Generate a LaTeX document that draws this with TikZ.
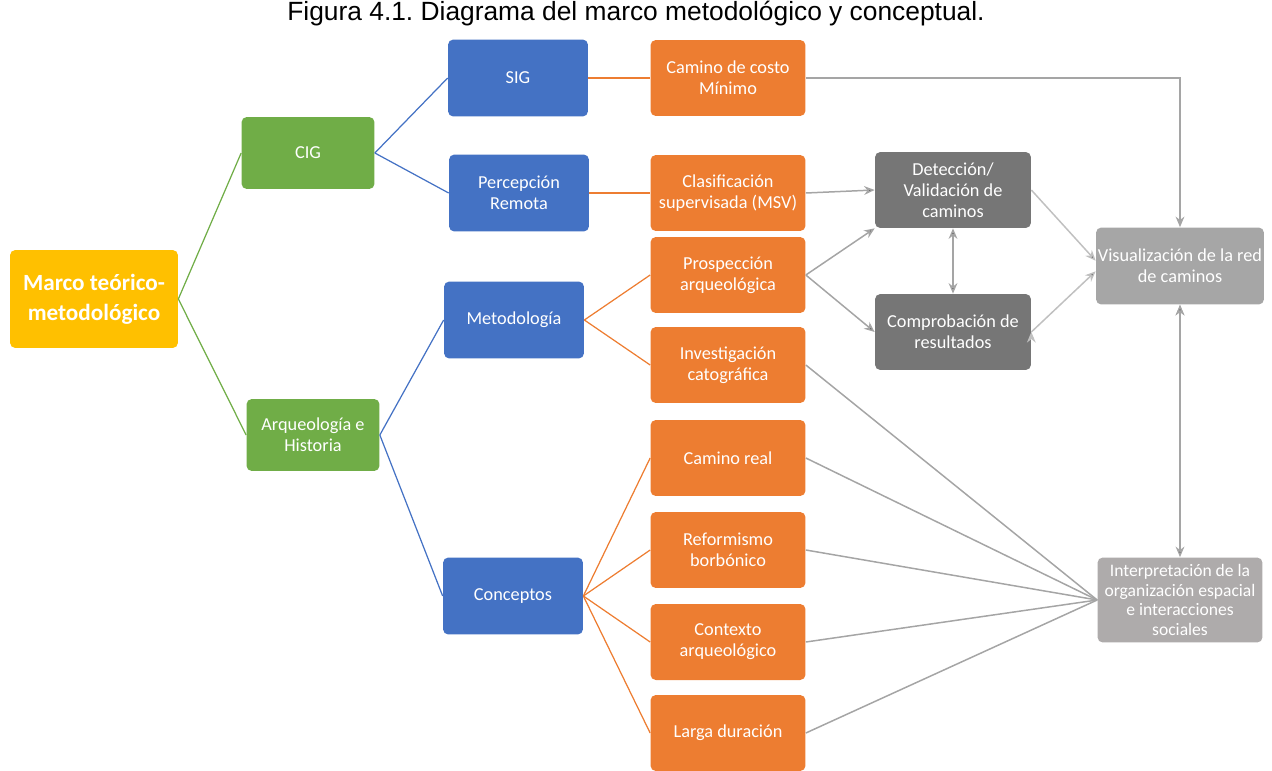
\documentclass[tikz,border=0pt]{standalone}
\usepackage{fontspec}
\setmainfont{Carlito}
\newfontfamily\capfont{Liberation Sans}
\usetikzlibrary{arrows.meta,shapes}
\frenchspacing
\definecolor{rootyellow}{HTML}{FFC000}
\definecolor{areagreen}{HTML}{70AD47}
\definecolor{fieldblue}{HTML}{4472C4}
\definecolor{topicorange}{HTML}{ED7D31}
\definecolor{procgray}{HTML}{767676}
\definecolor{viewgray}{HTML}{A6A6A6}
\definecolor{readgray}{HTML}{AEABAB}
\definecolor{linkgray}{HTML}{A5A5A5}
\tikzstyle{block} = [rectangle, rounded corners=3pt, text=white, align=center,
    font=\fontsize{10.4}{12}\selectfont, inner sep=1pt]
\tikzstyle{root} = [block, fill=rootyellow, minimum width=3.36cm, minimum height=1.96cm,
    font=\fontsize{13.2}{17}\selectfont\bfseries]
\tikzstyle{area} = [block, fill=areagreen, minimum width=2.66cm, minimum height=1.44cm]
\tikzstyle{field} = [block, fill=fieldblue, minimum width=2.8cm, minimum height=1.54cm]
\tikzstyle{topic} = [block, fill=topicorange, minimum width=3.1cm, minimum height=1.52cm]
\tikzstyle{process} = [block, fill=procgray, minimum width=3.12cm, minimum height=1.52cm]
\tikzstyle{outcome} = [block, minimum width=3.36cm, minimum height=1.54cm]
\tikzstyle{tree} = [-, line width=0.7pt]
\tikzstyle{link} = [draw=linkgray, line width=0.85pt]

\begin{document}
\begin{tikzpicture}[->,>={Stealth[length=6pt,width=5pt]},x=0.02cm,y=-0.02cm]
  \useasboundingbox (0,0) rectangle (1272,771);

  \node (title) at (636,14) {\capfont\fontsize{15}{18}\selectfont
    Figura 4.1. Diagrama del marco metodológico y conceptual.};

  \node[root]    (marco)  at (94,299)   {Marco teórico-\\metodológico};
  \node[area]    (cig)    at (308,153)  {CIG};
  \node[area]    (arq)    at (313,435)  {Arqueología e\\Historia};

  \node[field]   (sig)    at (518,78)   {SIG};
  \node[field]   (percep) at (519,193)  {Percepción\\Remota};
  \node[field]   (metod)  at (514,320)  {Metodología};
  \node[field]   (concep) at (513,596)  {Conceptos};

  \node[topic]   (costo)  at (728,78)   {Camino de costo\\Mínimo};
  \node[topic]   (clasif) at (728,193)  {Clasificación\\supervisada (MSV)};
  \node[topic]   (prosp)  at (728,275)  {Prospección\\arqueológica};
  \node[topic]   (invest) at (728,365)  {Investigación\\catográfica};
  \node[topic]   (real)   at (728,458)  {Camino real};
  \node[topic]   (reform) at (728,550)  {Reformismo\\borbónico};
  \node[topic]   (contx)  at (728,642)  {Contexto\\arqueológico};
  \node[topic]   (larga)  at (728,733)  {Larga duración};

  \node[process] (detec)  at (953,190)  {Detección/\\Validación de\\caminos};
  \node[process] (compr)  at (953,332)  {Comprobación de\\resultados};

  \node[outcome, fill=viewgray] (visual) at (1180,266) {Visualización de la red\\de caminos};
  \node[outcome, fill=readgray, minimum width=3.3cm, minimum height=1.7cm,
        font=\fontsize{10}{11.2}\selectfont] (interp) at (1180,600)
        {Interpretación de la\\organización espacial\\e interacciones\\sociales};

  % tree of the framework
  \path[tree, draw=areagreen] (marco.east) edge (cig.west)
                                           edge (arq.west);
  \path[tree, draw=fieldblue] (cig.east) edge (sig.west)
                                         edge (percep.west)
                              (arq.east) edge (metod.west)
                                         edge (concep.west);
  \path[tree, draw=topicorange] (sig.east)    edge (costo.west)
                                (percep.east) edge (clasif.west)
                                (metod.east)  edge (prosp.west)
                                              edge (invest.west)
                                (concep.east) edge (real.west)
                                              edge (reform.west)
                                              edge (contx.west)
                                              edge (larga.west);

  % process and results
  \path[link] (clasif.east) edge (detec.west)
              (prosp.east)  edge (detec.south west)
                            edge (compr.west)
              (detec.south) edge[<->] (compr.north)
              (visual.south) edge[<->] (interp.north);
  \path[link, draw=linkgray!70] (detec.east) edge ([yshift=3pt]visual.west)
                                (compr.east) edge ([yshift=-3pt]visual.west);
  \draw[link] (costo.east) -| (visual.north);
  \path[link, -] (invest.east) edge (interp.west)
                 (real.east)   edge (interp.west)
                 (reform.east) edge (interp.west)
                 (contx.east)  edge (interp.west)
                 (larga.east)  edge (interp.west);
\end{tikzpicture}
\end{document}
